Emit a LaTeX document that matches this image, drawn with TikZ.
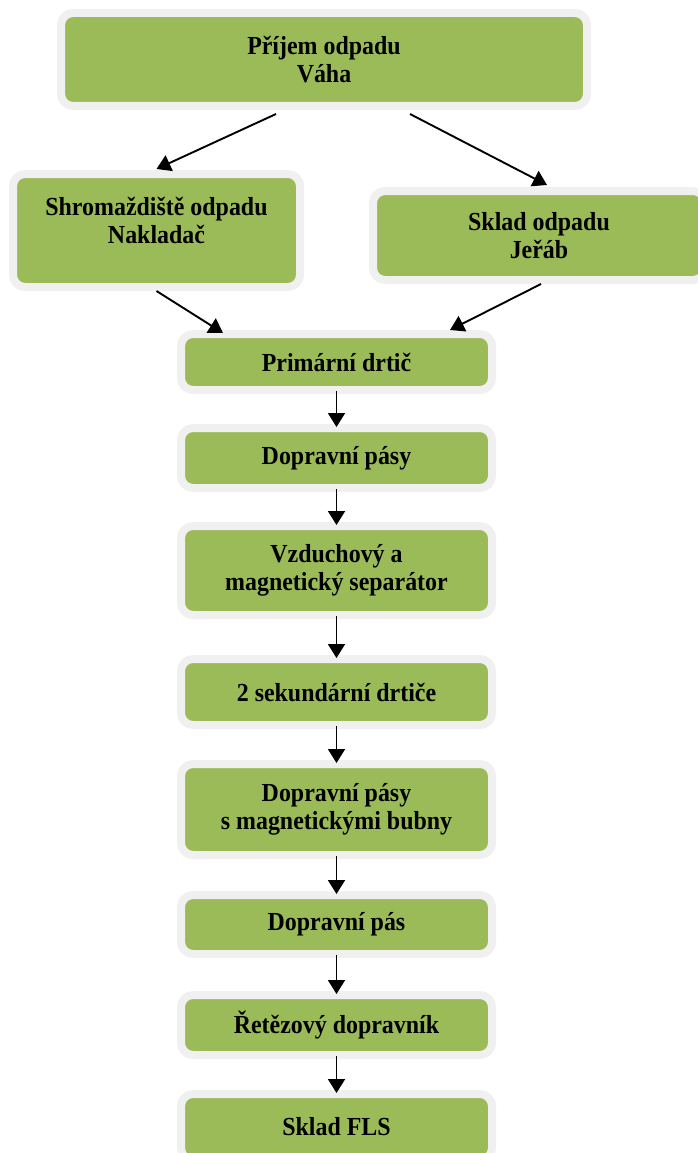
\documentclass[tikz,border=0pt]{standalone}
\usepackage{fontspec}
\setmainfont{Liberation Serif}[FakeStretch=0.92]
\usetikzlibrary{arrows.meta,calc}
\definecolor{boxgreen}{HTML}{9BBB59}
\definecolor{ringgray}{HTML}{F0F0F0}
\tikzset{
  stepbox/.style={fill=boxgreen, draw=ringgray, line width=8pt, rounded corners=12pt,
    align=center, inner sep=0pt, font=\bfseries\fontsize{26}{28}\selectfont, text=black},
  flow/.style={line width=1.9pt, -{Triangle[length=14pt,width=17pt]}}
}
\begin{document}
\begin{tikzpicture}[x=1pt,y=-1pt]
\useasboundingbox (0,0) rectangle (698,1153);
\node[stepbox, minimum width=526pt, minimum height=93pt] (top) at (324,59.5) {Příjem odpadu\\Váha};
\node[stepbox, minimum width=287pt, minimum height=113pt] (left) at (156.5,230.5) {Shromaždiště odpadu\\Nakladač\\[-8pt]\mbox{}};
\node[stepbox, minimum width=332pt, minimum height=89pt] (right) at (539,235.5) {Sklad odpadu\\Jeřáb};
\node[stepbox, minimum width=311pt, minimum height=56pt] (prim) at (336.5,362) {Primární drtič};
\node[stepbox, minimum width=311pt, minimum height=60pt] (dop1) at (336.5,458) {Dopravní pásy};
\node[stepbox, minimum width=311pt, minimum height=89pt] (sep) at (336.5,570.5) {Vzduchový a\\magnetický separátor};
\node[stepbox, minimum width=311pt, minimum height=66pt] (sek) at (336.5,692) {2 sekundární drtiče};
\node[stepbox, minimum width=311pt, minimum height=91pt] (dop2) at (336.5,809.5) {Dopravní pásy\\s magnetickými bubny};
\node[stepbox, minimum width=311pt, minimum height=59pt] (dop3) at (336.5,924.5) {Dopravní pás};
\node[stepbox, minimum width=311pt, minimum height=60pt] (ret) at (336.5,1025) {Řetězový dopravník};
\node[stepbox, minimum width=311pt, minimum height=66pt] (fls) at (336.5,1127) {Sklad FLS};

\draw[flow] ([xshift=-48pt,yshift=-4pt]top.south) -- ([yshift=1pt]left.north);
\draw[flow] ([xshift=86pt,yshift=-4pt]top.south) -- ([xshift=8pt,yshift=2pt]right.north);
\draw[flow] (left.south) -- ([xshift=-113.5pt,yshift=-3pt]prim.north);
\draw[flow] ([xshift=2pt]right.south) -- ([xshift=113.5pt]prim.north);
\foreach \a/\b in {prim/dop1, dop1/sep, sep/sek, sek/dop2, dop2/dop3, dop3/ret, ret/fls}
  \draw[flow, shorten <=-3pt, shorten >=-3pt] (\a.south) -- (\b.north);
\end{tikzpicture}
\end{document}
